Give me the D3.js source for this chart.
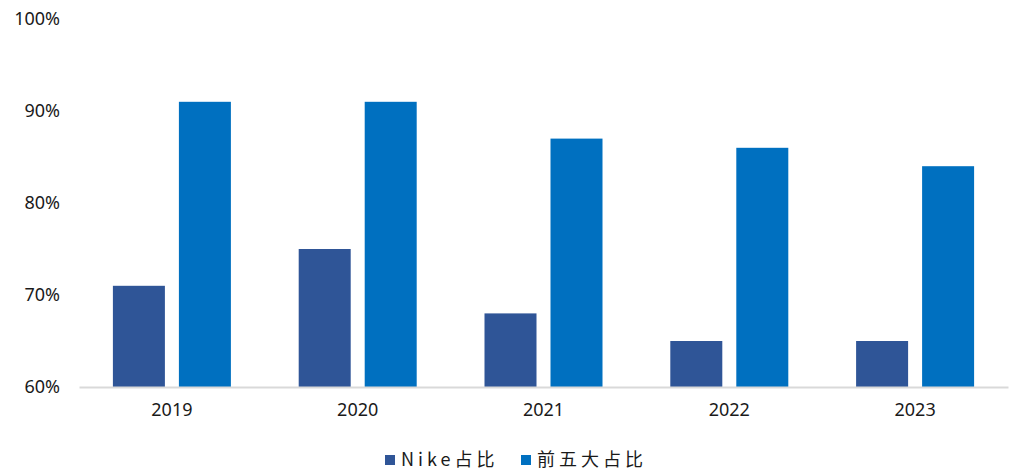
<!DOCTYPE html>
<meta charset="utf-8">
<style>
  body { margin: 0; background: #fff; }
  .tick text { font-family: "Noto Sans", "DejaVu Sans", sans-serif; font-size: 18px; fill: #1a1a1a; }
  .legend text { font-family: "Noto Sans CJK SC", sans-serif; font-size: 18px; fill: #1a1a1a; letter-spacing: 4px; }
</style>
<body>
<div id="chart"></div>
<script src="https://d3js.org/d3.v7.min.js"></script>
<script>
  // data
  var years = ["2019", "2020", "2021", "2022", "2023"];
  var nikeShare = [71, 75, 68, 65, 65];
  var top5Share = [91, 91, 87, 86, 84];
  var seriesNames = ["Nike占比", "前五大占比"];
  var seriesColors = ["#2F5597", "#0070C0"];
  var yTicks = [60, 70, 80, 90, 100];

  var W = 1013, H = 475;
  var margin = { top: 19, right: 5, bottom: 88, left: 79 };
  var width = W - margin.left - margin.right;
  var height = H - margin.top - margin.bottom;

  var svg = d3.select("#chart").append("svg")
    .attr("width", W)
    .attr("height", H);

  var g = svg.append("g")
    .attr("transform", "translate(" + margin.left + "," + margin.top + ")");

  var x = d3.scaleBand().domain(years).range([0, width]);
  var y = d3.scaleLinear().domain([60, 100]).range([height, 0]);

  var barW = 52, gap = 14;
  var offset = k => k === 0 ? -(barW + gap / 2) : gap / 2;

  // y axis labels only
  var yAxis = d3.axisLeft(y).tickValues(yTicks).tickSize(0).tickPadding(19)
    .tickFormat(d => d + "%");
  g.append("g").attr("class", "axis y").call(yAxis)
    .call(s => s.select(".domain").remove());

  var series = [nikeShare, top5Share];
  var groups = g.selectAll(".yr")
    .data(years)
    .enter().append("g")
    .attr("transform", d => "translate(" + (x(d) + x.bandwidth() / 2) + ",0)");

  groups.selectAll("rect")
    .data((d, i) => series.map((s, k) => ({ k: k, v: s[i] })))
    .enter().append("rect")
    .attr("x", d => offset(d.k))
    .attr("width", barW)
    .attr("y", d => y(d.v))
    .attr("height", d => y(60) - y(d.v))
    .attr("fill", d => seriesColors[d.k]);

  // x axis
  var xAxis = d3.axisBottom(x).tickSize(0).tickPadding(16);
  var xg = g.append("g").attr("class", "axis x")
    .attr("transform", "translate(0," + height + ")")
    .call(xAxis);
  xg.select(".domain").attr("stroke", "#d9d9d9").attr("stroke-width", 2);

  // legend
  var legend = svg.append("g").attr("class", "legend")
    .attr("transform", "translate(385,454)");
  var lx = [0, 136];
  seriesNames.forEach(function (name, i) {
    var it = legend.append("g").attr("transform", "translate(" + lx[i] + ",0)");
    it.append("rect").attr("width", 10).attr("height", 10).attr("y", 1)
      .attr("fill", seriesColors[i]);
    it.append("text").attr("x", 16).attr("y", 6).attr("dy", "0.35em").text(name);
  });
</script>
</body>
